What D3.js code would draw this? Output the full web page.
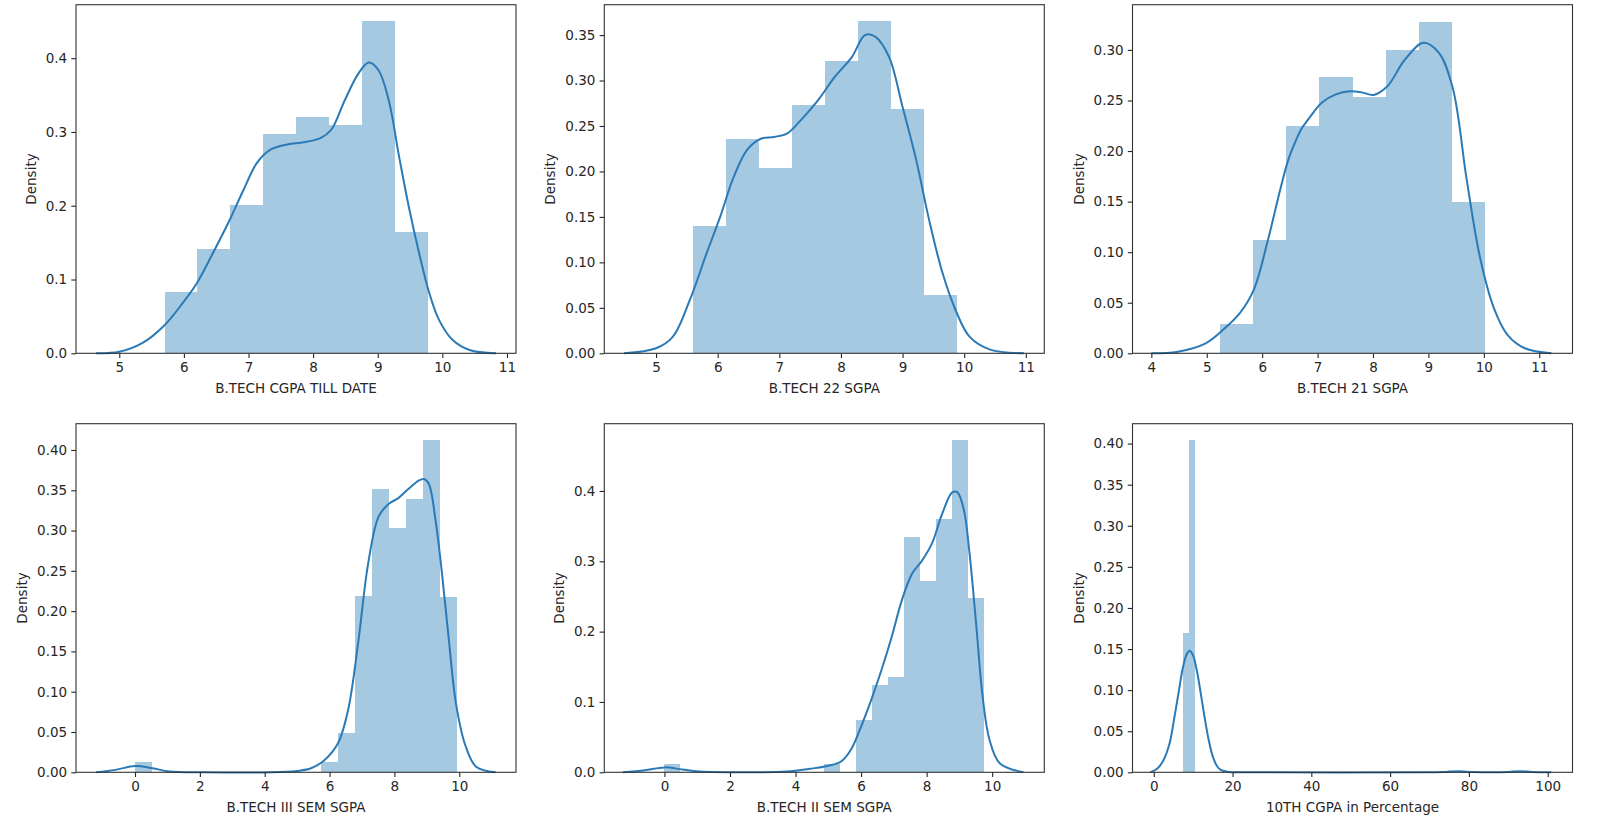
<!DOCTYPE html>
<html>
<head>
<meta charset="utf-8">
<script src="https://cdn.jsdelivr.net/npm/d3@7"></script>
<style>
  html, body { margin: 0; padding: 0; background: #ffffff; }
  svg { display: block; }
  text { font-family: "DejaVu Sans", sans-serif; fill: #262626; }
</style>
</head>
<body>
<svg id="chart" width="1600" height="824"></svg>
<script>
// ---------- DATA ----------
const xLabels = ["B.TECH CGPA TILL DATE", "B.TECH 22 SGPA", "B.TECH 21 SGPA",
                 "B.TECH III SEM SGPA", "B.TECH II SEM SGPA", "10TH CGPA in Percentage"];
const yLabel = "Density";

// Panel 1: B.TECH CGPA TILL DATE
const p1Edges   = [5.70, 6.21, 6.72, 7.23, 7.74, 8.25, 8.76, 9.27, 9.78];
const p1Heights = [0.083, 0.142, 0.201, 0.297, 0.320, 0.309, 0.450, 0.165];
const p1KdeX = [4.64, 5.0, 5.36, 5.70, 5.98, 6.20, 6.45, 6.71, 6.92, 7.13, 7.34, 7.60, 7.86, 8.12, 8.28, 8.49, 8.70, 8.86, 9.01, 9.17, 9.33, 9.48, 9.64, 9.80, 9.95, 10.16, 10.42, 10.83];
const p1KdeY = [0.0, 0.002, 0.014, 0.038, 0.068, 0.095, 0.136, 0.181, 0.221, 0.258, 0.276, 0.283, 0.286, 0.292, 0.303, 0.343, 0.379, 0.394, 0.384, 0.343, 0.267, 0.199, 0.136, 0.081, 0.045, 0.018, 0.0045, 0.0];
const p1XDomain = [4.33, 11.14], p1YDomain = [0, 0.4725];
const p1XTicks = [5, 6, 7, 8, 9, 10, 11];
const p1YTicks = [0, 0.1, 0.2, 0.3, 0.4];

// Panel 2: B.TECH 22 SGPA
const p2Edges   = [5.60, 6.135, 6.67, 7.205, 7.74, 8.275, 8.81, 9.345, 9.88];
const p2Heights = [0.140, 0.236, 0.204, 0.273, 0.321, 0.365, 0.269, 0.064];
const p2KdeX = [4.48, 5.0, 5.27, 5.55, 5.82, 6.04, 6.26, 6.48, 6.70, 6.92, 7.13, 7.35, 7.63, 7.90, 8.18, 8.39, 8.56, 8.78, 9.0, 9.22, 9.43, 9.65, 9.87, 10.09, 10.42, 10.97];
const p2KdeY = [0, 0.0055, 0.018, 0.059, 0.110, 0.150, 0.194, 0.224, 0.236, 0.238, 0.242, 0.2565, 0.2785, 0.304, 0.326, 0.350, 0.348, 0.326, 0.271, 0.213, 0.147, 0.088, 0.046, 0.018, 0.004, 0];
const p2XDomain = [4.16, 11.30], p2YDomain = [0, 0.3834];
const p2XTicks = [5, 6, 7, 8, 9, 10, 11];
const p2YTicks = [0, 0.05, 0.10, 0.15, 0.20, 0.25, 0.30, 0.35];

// Panel 3: B.TECH 21 SGPA
const p3Edges   = [5.23, 5.83, 6.43, 7.03, 7.63, 8.23, 8.83, 9.43, 10.03];
const p3Heights = [0.029, 0.112, 0.225, 0.273, 0.253, 0.300, 0.328, 0.150];
const p3KdeX = [4.0, 4.48, 4.98, 5.29, 5.60, 5.85, 6.09, 6.34, 6.47, 6.59, 6.71, 6.84, 7.08, 7.33, 7.58, 7.80, 8.01, 8.26, 8.57, 8.91, 9.19, 9.44, 9.69, 9.93, 10.18, 10.43, 10.74, 11.22];
const p3KdeY = [0, 0.0016, 0.0099, 0.023, 0.040, 0.063, 0.109, 0.165, 0.191, 0.208, 0.222, 0.232, 0.248, 0.256, 0.259, 0.258, 0.2555, 0.264, 0.290, 0.307, 0.297, 0.262, 0.172, 0.095, 0.045, 0.018, 0.005, 0];
const p3XDomain = [3.66, 11.60], p3YDomain = [0, 0.3447];
const p3XTicks = [4, 5, 6, 7, 8, 9, 10, 11];
const p3YTicks = [0, 0.05, 0.10, 0.15, 0.20, 0.25, 0.30];

// Panel 4: B.TECH III SEM SGPA
const p4Edges   = [0, 0.5225, 1.045, 1.5675, 2.09, 2.6125, 3.135, 3.6575, 4.18, 4.7025, 5.225, 5.7475, 6.27, 6.7925, 7.315, 7.8375, 8.36, 8.8825, 9.405, 9.93];
const p4Heights = [0.0124, 0, 0, 0, 0, 0, 0, 0, 0, 0, 0, 0.0124, 0.049, 0.2184, 0.352, 0.303, 0.339, 0.412, 0.218];
const p4KdeX = [-1.2, -0.6, 0, 0.54, 1.06, 2.1, 4.18, 5.0, 5.43, 5.84, 6.26, 6.57, 6.88, 7.19, 7.51, 7.82, 8.13, 8.44, 8.75, 8.91, 9.06, 9.27, 9.48, 9.69, 9.90, 10.2, 10.52, 11.12];
const p4KdeY = [0, 0.003, 0.0078, 0.005, 0.001, 0, 0, 0.0017, 0.005, 0.015, 0.036, 0.077, 0.160, 0.259, 0.317, 0.333, 0.3406, 0.352, 0.362, 0.364, 0.358, 0.3125, 0.242, 0.160, 0.085, 0.032, 0.007, 0];
const p4XDomain = [-1.82, 11.75], p4YDomain = [0, 0.4326];
const p4XTicks = [0, 2, 4, 6, 8, 10];
const p4YTicks = [0, 0.05, 0.10, 0.15, 0.20, 0.25, 0.30, 0.35, 0.40];

// Panel 5: B.TECH II SEM SGPA
const p5Edges   = [0, 0.487, 0.974, 1.461, 1.948, 2.435, 2.922, 3.409, 3.896, 4.383, 4.87, 5.357, 5.844, 6.331, 6.818, 7.305, 7.792, 8.279, 8.766, 9.253, 9.74];
const p5Heights = [0.0118, 0, 0, 0, 0, 0, 0, 0, 0, 0, 0.0118, 0, 0.0742, 0.124, 0.1357, 0.334, 0.272, 0.360, 0.472, 0.248];
const p5KdeX = [-1.27, -0.6, 0, 0.54, 1.05, 2.08, 3.73, 4.45, 4.97, 5.38, 5.69, 6.0, 6.31, 6.62, 6.93, 7.24, 7.55, 7.86, 8.16, 8.47, 8.78, 8.94, 9.14, 9.30, 9.51, 9.71, 9.92, 10.23, 10.95];
const p5KdeY = [0, 0.003, 0.007, 0.004, 0.001, 0, 0.001, 0.005, 0.009, 0.015, 0.032, 0.065, 0.103, 0.145, 0.192, 0.244, 0.282, 0.301, 0.325, 0.367, 0.398, 0.398, 0.372, 0.315, 0.211, 0.107, 0.046, 0.013, 0];
const p5XDomain = [-1.835, 11.59], p5YDomain = [0, 0.4956];
const p5XTicks = [0, 2, 4, 6, 8, 10];
const p5YTicks = [0, 0.1, 0.2, 0.3, 0.4];

// Panel 6: 10TH CGPA in Percentage
const p6Edges   = [7.4, 8.84, 10.5];
const p6Heights = [0.1695, 0.404];
const p6SmallEdges   = [76.9, 78.5, 92.4, 94.0];
const p6SmallHeights = [0.0015, 0, 0.0015];
const p6KdeX = [-0.9, 1, 2.5, 4, 5.2, 6.3, 7.3, 8.3, 9.1, 10, 11, 12, 13, 14, 15, 16, 17, 19, 25, 70, 74, 77.5, 81, 86, 90, 93, 96, 100.9];
const p6KdeY = [0, 0.005, 0.015, 0.035, 0.066, 0.097, 0.125, 0.143, 0.148, 0.142, 0.122, 0.094, 0.064, 0.038, 0.019, 0.008, 0.003, 0.0005, 0, 0, 0.0005, 0.0012, 0.0004, 0.0001, 0.0005, 0.0012, 0.0005, 0];
const p6XDomain = [-5.4, 106.3], p6YDomain = [0, 0.4242];
const p6XTicks = [0, 20, 40, 60, 80, 100];
const p6YTicks = [0, 0.05, 0.10, 0.15, 0.20, 0.25, 0.30, 0.35, 0.40];

// ---------- LAYOUT ----------
const colLeft = [76, 604.3, 1132.5];
const rowTop = [4.7, 423.7];
const axW = 440, axH = 348.6;
const barColor = "#a5c9e1";
const lineColor = "#2a7ab7";

function binsFrom(edges, heights) {
  return heights.map((h, i) => ({ x0: edges[i], x1: edges[i + 1], h }));
}

const panels = [
  { bins: binsFrom(p1Edges, p1Heights), kx: p1KdeX, ky: p1KdeY, xd: p1XDomain, yd: p1YDomain, xt: p1XTicks, yt: p1YTicks, yf: ".1f", label: xLabels[0] },
  { bins: binsFrom(p2Edges, p2Heights), kx: p2KdeX, ky: p2KdeY, xd: p2XDomain, yd: p2YDomain, xt: p2XTicks, yt: p2YTicks, yf: ".2f", label: xLabels[1] },
  { bins: binsFrom(p3Edges, p3Heights), kx: p3KdeX, ky: p3KdeY, xd: p3XDomain, yd: p3YDomain, xt: p3XTicks, yt: p3YTicks, yf: ".2f", label: xLabels[2] },
  { bins: binsFrom(p4Edges, p4Heights), kx: p4KdeX, ky: p4KdeY, xd: p4XDomain, yd: p4YDomain, xt: p4XTicks, yt: p4YTicks, yf: ".2f", label: xLabels[3] },
  { bins: binsFrom(p5Edges, p5Heights), kx: p5KdeX, ky: p5KdeY, xd: p5XDomain, yd: p5YDomain, xt: p5XTicks, yt: p5YTicks, yf: ".1f", label: xLabels[4] },
  { bins: binsFrom(p6Edges, p6Heights).concat(binsFrom(p6SmallEdges, p6SmallHeights)), kx: p6KdeX, ky: p6KdeY, xd: p6XDomain, yd: p6YDomain, xt: p6XTicks, yt: p6YTicks, yf: ".2f", label: xLabels[5] }
];

const svg = d3.select("#chart");

panels.forEach((p, i) => {
  const left = colLeft[i % 3], top = rowTop[Math.floor(i / 3)];
  const g = svg.append("g").attr("transform", `translate(${left},${top})`);
  const x = d3.scaleLinear().domain(p.xd).range([0, axW]);
  const y = d3.scaleLinear().domain(p.yd).range([axH, 0]);

  // histogram bars
  g.append("g").selectAll("rect")
    .data(p.bins.filter(b => b.h > 0))
    .join("rect")
    .attr("x", d => x(d.x0))
    .attr("width", d => x(d.x1) - x(d.x0))
    .attr("y", d => y(d.h))
    .attr("height", d => y(0) - y(d.h))
    .attr("fill", barColor)
    .attr("shape-rendering", "crispEdges");

  // KDE line
  const pts = p.kx.map((v, k) => [v, p.ky[k]]);
  g.append("path")
    .datum(pts)
    .attr("fill", "none")
    .attr("stroke", lineColor)
    .attr("stroke-width", 2)
    .attr("stroke-linejoin", "round")
    .attr("d", d3.line().x(d => x(d[0])).y(d => y(Math.max(0, d[1]))).curve(d3.curveCatmullRom.alpha(0.5)));

  // axes
  const xAxis = d3.axisBottom(x).tickValues(p.xt).tickFormat(d3.format("d")).tickSize(4.7).tickPadding(4.2);
  const yAxis = d3.axisLeft(y).tickValues(p.yt).tickFormat(d3.format(p.yf)).tickSize(4.7).tickPadding(4.2);
  const gx = g.append("g").attr("transform", `translate(0,${axH})`).call(xAxis);
  const gy = g.append("g").call(yAxis);
  [gx, gy].forEach(a => {
    a.select(".domain").remove();
    a.selectAll(".tick line").attr("stroke", "#262626").attr("stroke-width", 1.1);
    a.selectAll(".tick text").attr("font-size", 13.5).attr("font-family", "DejaVu Sans").attr("fill", "#262626");
  });

  // frame (spines)
  g.append("rect")
    .attr("x", 0).attr("y", 0).attr("width", axW).attr("height", axH)
    .attr("fill", "none").attr("stroke", "#333").attr("stroke-width", 1.1);

  // x label
  g.append("text")
    .attr("x", axW / 2).attr("y", axH + 40)
    .attr("text-anchor", "middle")
    .attr("font-size", 13.5)
    .text(p.label);

  // y label
  const bw = gy.node().getBBox().width;
  g.append("text")
    .attr("transform", `translate(${-bw - 10},${axH / 2}) rotate(-90)`)
    .attr("text-anchor", "middle")
    .attr("font-size", 13.5)
    .text(yLabel);
});
</script>
</body>
</html>
